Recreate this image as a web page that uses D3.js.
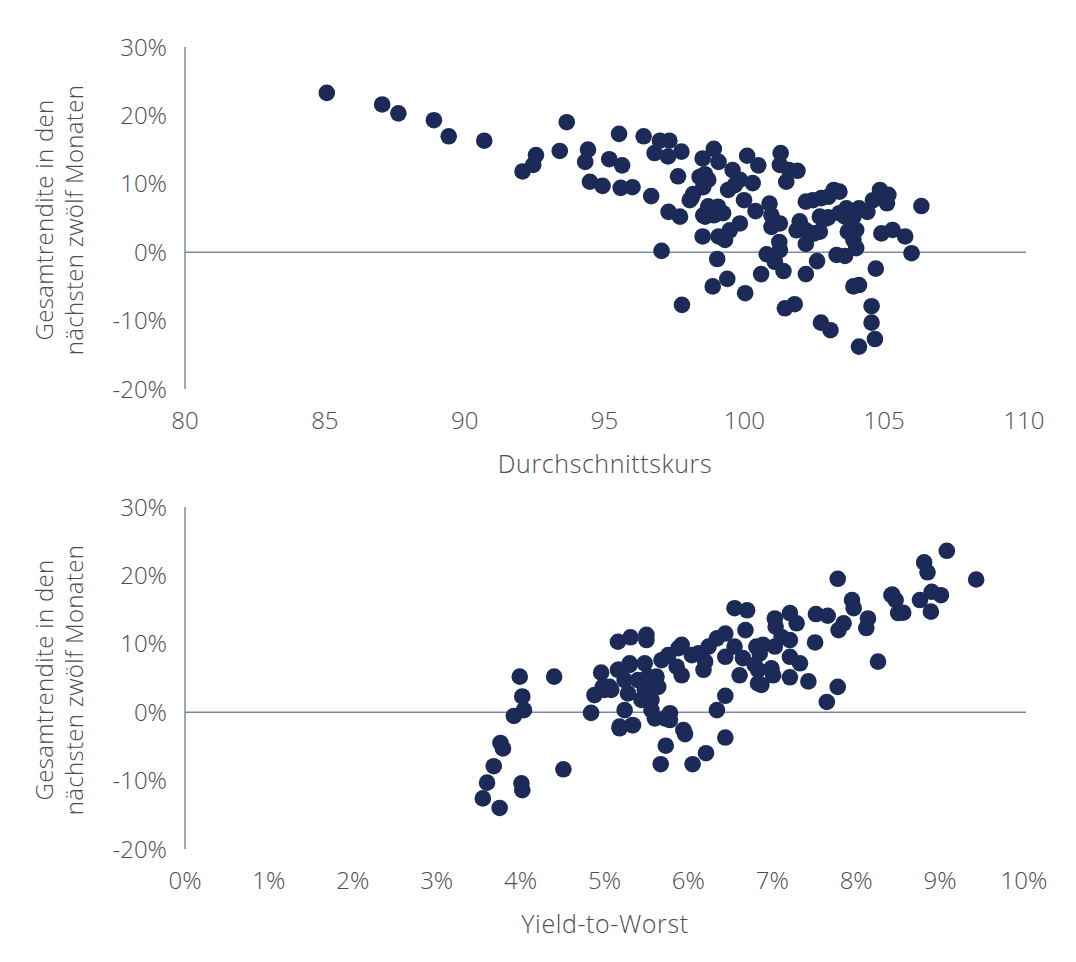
<!DOCTYPE html>
<html lang="de">
<head>
<meta charset="UTF-8"/>
<title>Kurs / Yield-to-Worst</title>
<script src="https://d3js.org/d3.v7.min.js"></script>
<style>
  body { margin: 0; background: #fff; }
  text { font-family: "Open Sans", Lato, sans-serif; font-weight: 300; fill: #4d4d4d; }
</style>
</head>
<body>
<div id="chart"></div>
<script>
// top chart: Durchschnittskurs vs. Gesamtrendite (%)
var kurs = [85.07, 87.05, 87.63, 88.9, 89.43, 90.7, 92.07, 92.45, 92.55, 93.4, 93.65,
  95.52, 96.4, 96.98, 97.32, 96.79, 97.27, 97.75, 94.41, 94.31, 95.17, 95.63, 94.48, 94.93,
  95.58, 96.0, 96.67, 97.63, 97.29, 97.7, 98.11, 97.04, 97.77, 98.51, 98.91, 99.08, 98.59,
  98.71, 98.05, 98.17, 98.53, 98.71, 98.53, 99.06, 99.24, 98.91, 98.51, 99.08, 99.31, 99.48,
  99.84, 99.58, 99.42, 99.66, 99.84, 100.1, 100.5, 100.3, 99.99, 100.4, 100.9, 100.97,
  101.27, 100.97, 99.03, 98.87, 99.39, 100.03, 100.6, 100.8, 101.25, 101.27, 101.09, 101.4,
  101.3, 101.27, 101.6, 101.9, 101.5, 102.2, 102.45, 102.75, 103.2, 103.0, 102.7, 103.0,
  101.98, 101.87, 102.2, 102.5, 102.2, 102.6, 102.2, 101.45, 101.8, 102.74, 103.08, 103.4,
  103.3, 103.4, 102.94, 102.7, 103.65, 103.6, 103.9, 104.1, 104.4, 103.7, 104.0, 103.9,
  104.0, 103.6, 104.6, 104.85, 105.15, 105.1, 104.9, 105.3, 105.75, 105.98, 106.33, 104.7,
  103.9, 104.1, 104.55, 104.55, 104.67, 104.1, 98.4, 98.6];
var renditeKurs = [23.3, 21.6, 20.3, 19.3, 16.95, 16.3, 11.8, 12.75, 14.2, 14.8, 19.0,
  17.3, 16.95, 16.3, 16.3, 14.5, 14.0, 14.7, 15.0, 13.2, 13.6, 12.7, 10.3, 9.7,
  9.4, 9.5, 8.2, 11.1, 5.9, 5.2, 7.9, 0.2, -7.7, 13.7, 15.1, 13.2, 11.4,
  10.6, 7.6, 8.5, 9.5, 6.7, 5.4, 6.65, 5.7, 5.4, 2.3, 2.3, 1.8, 3.2,
  4.2, 12.0, 9.1, 9.8, 10.6, 14.1, 12.7, 10.1, 7.6, 6.0, 7.1, 5.4,
  4.2, 3.7, -1.0, -5.0, -3.9, -6.0, -3.2, -0.3, 1.5, 0.3, -1.4, -2.75,
  14.5, 12.75, 12.0, 11.9, 10.3, 7.4, 7.6, 7.9, 9.1, 8.1, 5.2, 5.1,
  4.5, 3.2, 3.2, 2.75, 1.2, -1.3, -3.2, -8.2, -7.6, -10.3, -11.4, 5.7,
  -0.4, 8.85, 4.95, 3.0, 6.4, 5.2, 5.2, 6.4, 5.9, 3.0, 3.25, 1.8,
  0.6, -0.55, 7.6, 9.1, 8.4, 7.15, 2.75, 3.25, 2.3, -0.15, 6.75, -2.4,
  -5.0, -4.8, -7.9, -10.3, -12.7, -13.8, 11.0, 5.2];

// bottom chart: Yield-to-Worst (%) vs. Gesamtrendite (%)
var ytw = [3.99, 4.40, 4.02, 4.04, 3.92, 3.76, 3.79, 3.68, 3.60, 3.55, 3.75, 4.01, 4.02, 4.51,
  4.96, 4.84, 4.88, 5.0, 5.18, 5.33, 5.24, 5.16, 5.30, 5.06, 5.16, 5.31, 5.50, 5.50, 4.98,
  5.08, 5.18, 5.30, 5.24, 5.28, 5.18, 5.34, 5.40, 5.48, 5.52, 5.48, 5.44, 5.56, 5.56, 5.6,
  5.64, 5.62, 5.68, 5.76, 5.72, 5.78, 5.78, 5.94, 5.96, 5.73, 5.67, 6.05, 6.21, 6.44, 6.34,
  6.44, 5.88, 5.92, 5.86, 5.92, 6.04, 6.12, 6.18, 6.2, 6.24, 6.34, 6.44, 6.44, 6.55, 6.55,
  6.70, 6.68, 6.65, 6.61, 6.81, 6.83, 6.89, 6.85, 7.03, 7.04, 7.21, 7.29, 7.11, 7.21, 7.03,
  6.83, 6.79, 6.99, 6.87, 7.01, 7.21, 7.33, 7.21, 7.43, 7.52, 7.66, 7.51, 7.78, 7.95, 7.97,
  7.85, 7.79, 8.14, 8.12, 8.26, 7.78, 7.65, 8.42, 8.50, 9.08, 8.81, 8.85, 9.43, 8.43, 8.47,
  8.56, 8.76, 8.90, 9.01, 8.89];
var renditeYtw = [5.2, 5.2, 2.3, 0.3, -0.55, -4.5, -5.3, -7.9, -10.3, -12.6, -14.0, -10.4, -11.4, -8.35,
  5.8, -0.1, 2.5, 3.25, -2.35, -1.9, 0.3, 6.2, 6.9, 3.7, 10.3, 10.95, 11.3, 10.55, 3.7,
  3.25, 6.2, 7.15, 4.7, 2.75, -2.1, -1.9, 4.7, 7.15, 5.2, 3.25, 1.8, 1.8, 0.3, -0.9,
  3.7, 5.2, 7.6, 8.35, -0.9, -0.15, -1.15, -2.6, -3.2, -4.9, -7.6, -7.6, -6.0, -3.7, 0.3,
  2.4, 9.35, 9.85, 6.65, 5.4, 8.35, 8.6, 6.2, 7.4, 9.6, 10.8, 11.5, 8.1, 9.6, 15.2,
  14.9, 12.0, 7.9, 5.4, 9.6, 4.2, 9.85, 8.6, 13.7, 12.5, 14.5, 13.0, 11.0, 10.55, 9.6,
  6.2, 6.9, 6.4, 4.0, 5.4, 8.1, 7.15, 5.1, 4.5, 14.35, 14.1, 10.2, 19.5, 16.4, 15.2,
  13.0, 12.0, 13.7, 12.3, 7.4, 3.7, 1.5, 17.1, 14.5, 23.6, 21.9, 20.45, 19.4, 17.2, 16.4,
  14.55, 16.4, 17.6, 17.1, 14.7];

var yTicks = [30, 20, 10, 0, -10, -20];
var kursTicks = [80, 85, 90, 95, 100, 105, 110];
var ytwTicks = [0, 1, 2, 3, 4, 5, 6, 7, 8, 9, 10];

var width = 1076, height = 962;
var dotColor = "#1b2a56", axisColor = "#7b8b9b";

var svg = d3.select("#chart").append("svg")
    .attr("width", width)
    .attr("height", height);

function panel(top, xs, ys, xDomain, xTicks, xFmt, xTitle) {
  var x = d3.scaleLinear().domain(xDomain).range([185, 1024]);
  var y = d3.scaleLinear().domain([-20, 30]).range([top + 342, top]);
  var g = svg.append("g");

  // y axis line and zero line
  g.append("line")
    .attr("x1", 185).attr("x2", 185)
    .attr("y1", y(30)).attr("y2", y(-20))
    .attr("stroke", axisColor).attr("stroke-width", 1.5);
  g.append("line")
    .attr("x1", 185).attr("x2", 1026)
    .attr("y1", y(0)).attr("y2", y(0))
    .attr("stroke", axisColor).attr("stroke-width", 1.5);

  g.selectAll(".yt").data(yTicks).enter().append("text")
    .attr("x", 167).attr("y", function(d) { return y(d); })
    .attr("dy", "0.36em")
    .attr("text-anchor", "end")
    .style("font-size", "24px")
    .text(function(d) { return d + "%"; });

  g.selectAll(".xt").data(xTicks).enter().append("text")
    .attr("x", function(d) { return x(d); })
    .attr("y", top + 373)
    .attr("dy", "0.36em")
    .attr("text-anchor", "middle")
    .style("font-size", "24px")
    .text(xFmt);

  g.append("text")
    .attr("x", 605).attr("y", top + 417)
    .attr("dy", "0.36em")
    .attr("text-anchor", "middle")
    .style("font-size", "25px")
    .style("letter-spacing", "0.6px")
    .text(xTitle);

  var t = g.append("text")
    .attr("transform", "translate(60," + (top + 173) + ") rotate(-90)")
    .attr("text-anchor", "middle")
    .style("font-size", "24px")
    .style("letter-spacing", "0.3px");
  t.append("tspan").attr("x", 0).attr("dy", "-0.3em").text("Gesamtrendite in den");
  t.append("tspan").attr("x", 0).attr("dy", "1.25em").text("nächsten zwölf Monaten");

  g.selectAll("circle").data(xs).enter().append("circle")
    .attr("cx", function(d) { return x(d); })
    .attr("cy", function(d, i) { return y(ys[i]); })
    .attr("r", 8.3)
    .attr("fill", dotColor);
}

panel(47, kurs, renditeKurs, [80, 110], kursTicks, function(d) { return d; }, "Durchschnittskurs");
panel(507, ytw, renditeYtw, [0, 10], ytwTicks, function(d) { return d + "%"; }, "Yield-to-Worst");
</script>
</body>
</html>
